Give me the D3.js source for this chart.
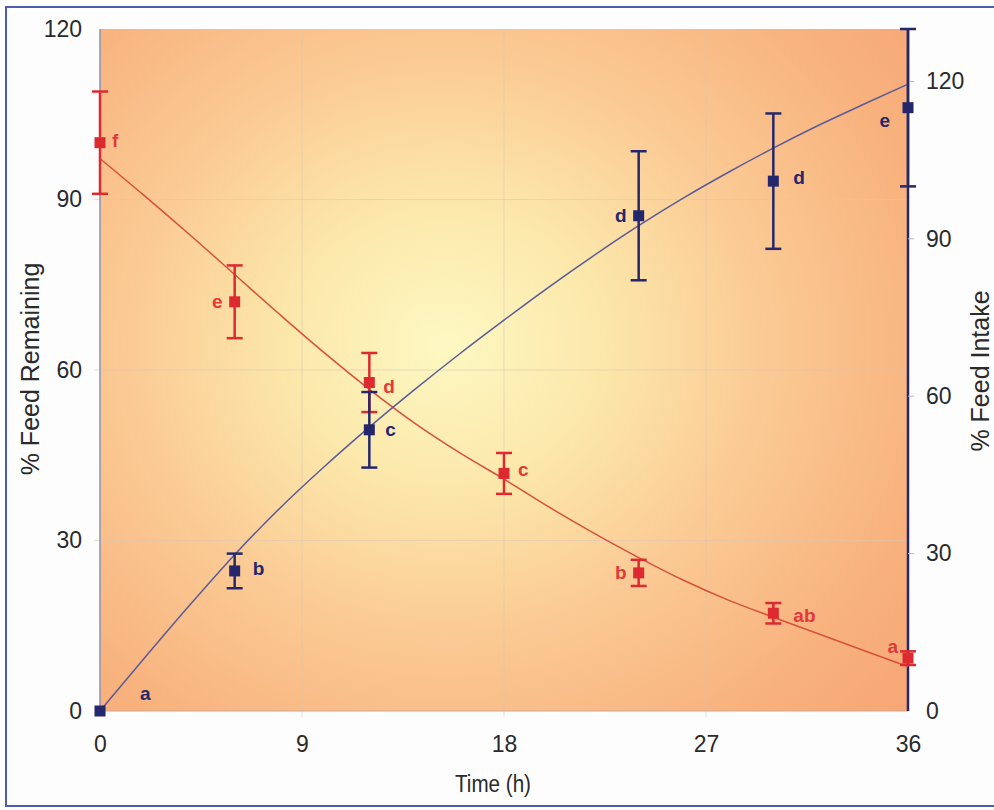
<!DOCTYPE html>
<html>
<head>
<meta charset="utf-8">
<script src="https://cdn.jsdelivr.net/npm/d3@7"></script>
<style>
  html, body { margin: 0; padding: 0; background: #ffffff; }
  svg { display: block; font-family: "Liberation Sans", Arial, sans-serif; }
</style>
</head>
<body>
<svg id="chart" width="994" height="810"></svg>
<script>
// Sampling times (h)
const hours = [0, 6, 12, 18, 24, 30, 36];

// Feed remaining (%), left axis
const remainingMean = [100, 72, 57.8, 41.8, 24.3, 17.2, 9.3];
const remainingErr  = [9, 6.4, 5.2, 3.6, 2.3, 1.8, 1.2];
const remainingLetters = ["f", "e", "d", "c", "b", "ab", "a"];

// Feed intake (%), right axis
const intakeHours = [0, 6, 12, 24, 30, 36];
const intakeMean = [0, 26.7, 53.6, 94.4, 101, 115];
const intakeErr  = [0, 3.3, 7.2, 12.3, 12.9, 15];
const intakeLetters = ["a", "b", "c", "d", "d", "e"];

// Fitted curves
const remainingFitX = [0, 2, 4, 6, 8, 10, 12, 14, 16, 18, 20, 22, 24, 26, 28, 30, 32, 34, 36];
const remainingFitY = [97.2, 90.6, 83.8, 76.8, 69.8, 63.0, 56.6, 50.7, 45.5, 40.8, 35.9, 31.3, 27.0, 23.0, 19.5, 16.5, 13.6, 10.7, 7.8];
const intakeFitX = [0, 2, 4, 6, 8, 10, 12, 14, 16, 18, 20, 22, 24, 26, 28, 30, 32, 34, 36];
const intakeFitY = [0, 10.2, 20.2, 29.8, 38.6, 46.6, 54.1, 61.2, 68.0, 74.5, 80.8, 86.8, 92.5, 97.8, 102.7, 107.3, 111.6, 115.6, 119.5];

// Axis ticks
const xTicks = [0, 9, 18, 27, 36];
const leftTicks = [0, 30, 60, 90, 120];
const rightTicks = [0, 30, 60, 90, 120];

// Letter placement around each marker: [dx, dy, anchor]
const remainingLabelPos = [[12, -2, "start"], [-12, 0, "end"], [14, 4, "start"], [14, -4, "start"], [-12, 0, "end"], [20, 2, "start"], [-10, -12, "end"]];
const intakeLabelPos = [[40, -18, "start"], [18, -2, "start"], [16, 0, "start"], [-12, 0, "end"], [20, -4, "start"], [-18, 13, "end"]];

const svg = d3.select("#chart");
const W = 994, H = 810;
const plot = { left: 100, right: 908, top: 29, bottom: 711 };

const x = d3.scaleLinear().domain([0, 36]).range([plot.left, plot.right]);
const yL = d3.scaleLinear().domain([0, 120]).range([plot.bottom, plot.top]);
const yR = d3.scaleLinear().domain([0, 130]).range([plot.bottom, plot.top]);

const RED = "#dd2a30";
const RED_LINE = "#d9503e";
const RED_TEXT = "#e23a3a";
const BLUE = "#24276b";
const BLUE_LINE = "#5a5c98";
const TEXT = "#2a2a2a";

// Outer frame
svg.append("rect").attr("x", 0).attr("y", 0).attr("width", W).attr("height", H).attr("fill", "#fdfdfe");
svg.append("rect").attr("x", 6).attr("y", 7).attr("width", 1000).attr("height", 799)
  .attr("fill", "none").attr("stroke", "#4d5cab").attr("stroke-width", 2);

// Plot background: warm radial gradient
const defs = svg.append("defs");
const grad = defs.append("radialGradient").attr("id", "bg")
  .attr("gradientUnits", "userSpaceOnUse")
  .attr("cx", 445).attr("cy", 345).attr("r", 560)
  .attr("gradientTransform", "translate(445,345) scale(1.1,1) translate(-445,-345)");
[[0, "#fdf8c2"], [0.25, "#fce8ab"], [0.52, "#fbca94"], [0.8, "#f8b27e"], [1, "#f6a674"]]
  .forEach(([o, c]) => grad.append("stop").attr("offset", o).attr("stop-color", c));

svg.append("rect")
  .attr("x", plot.left).attr("y", plot.top)
  .attr("width", plot.right - plot.left).attr("height", plot.bottom - plot.top)
  .attr("fill", "url(#bg)");

// Faint grid
const grid = svg.append("g").attr("stroke", "#d9c7b8").attr("stroke-opacity", 0.55).attr("stroke-width", 1);
grid.selectAll("line.v").data(xTicks.slice(1, -1)).join("line")
  .attr("x1", d => x(d)).attr("x2", d => x(d)).attr("y1", plot.top).attr("y2", plot.bottom + 6);
grid.selectAll("line.h").data(leftTicks.slice(1, -1)).join("line")
  .attr("x1", plot.left - 6).attr("x2", plot.right).attr("y1", d => yL(d)).attr("y2", d => yL(d));

// Plot edges
svg.append("line").attr("x1", plot.left).attr("x2", plot.left).attr("y1", plot.top).attr("y2", plot.bottom)
  .attr("stroke", "#8d90b4").attr("stroke-width", 1.5);
svg.append("line").attr("x1", plot.left).attr("x2", plot.right).attr("y1", plot.bottom).attr("y2", plot.bottom)
  .attr("stroke", "#c9a896").attr("stroke-width", 1.2);

// Axes (labels drawn through d3 axes, lines hidden)
const tickFont = 23;
const titleFont = 25;
const xAxis = svg.append("g").attr("transform", `translate(0,${plot.bottom})`)
  .call(d3.axisBottom(x).tickValues(xTicks).tickSize(0).tickPadding(25));
const yAxisL = svg.append("g").attr("transform", `translate(${plot.left},0)`)
  .call(d3.axisLeft(yL).tickValues(leftTicks).tickSize(0).tickPadding(18));
const yAxisR = svg.append("g").attr("transform", `translate(${plot.right},0)`)
  .call(d3.axisRight(yR).tickValues(rightTicks).tickSize(0).tickPadding(18));
[xAxis, yAxisL, yAxisR].forEach(g => {
  g.select(".domain").remove();
  g.selectAll("text").attr("font-size", tickFont).attr("fill", TEXT)
    .attr("font-family", "'Liberation Sans', Arial, sans-serif");
});

// Right axis line with small ticks
svg.append("line").attr("x1", plot.right).attr("x2", plot.right).attr("y1", plot.top).attr("y2", plot.bottom)
  .attr("stroke", BLUE).attr("stroke-width", 2.5);
svg.append("g").selectAll("line").data(rightTicks.slice(1)).join("line")
  .attr("x1", plot.right).attr("x2", plot.right + 6)
  .attr("y1", d => yR(d)).attr("y2", d => yR(d))
  .attr("stroke", "#b8b8c8").attr("stroke-width", 1);

// Axis titles
svg.append("text").attr("x", 493).attr("y", 792)
  .attr("text-anchor", "middle").attr("font-size", 23).attr("fill", TEXT)
  .attr("textLength", 76).attr("lengthAdjust", "spacingAndGlyphs").text("Time (h)");
svg.append("text").attr("transform", `translate(39,369) rotate(-90)`)
  .attr("text-anchor", "middle").attr("font-size", titleFont).attr("fill", TEXT).text("% Feed Remaining");
svg.append("text").attr("transform", `translate(989,371) rotate(-90)`)
  .attr("text-anchor", "middle").attr("font-size", titleFont).attr("fill", TEXT).text("% Feed Intake");

// Fitted curves
const remLine = d3.line().x(d => x(d[0])).y(d => yL(d[1])).curve(d3.curveMonotoneX);
const intLine = d3.line().x(d => x(d[0])).y(d => yR(d[1])).curve(d3.curveMonotoneX);
svg.append("path").datum(d3.zip(remainingFitX, remainingFitY)).attr("d", remLine)
  .attr("fill", "none").attr("stroke", RED_LINE).attr("stroke-width", 1.5);
svg.append("path").datum(d3.zip(intakeFitX, intakeFitY)).attr("d", intLine)
  .attr("fill", "none").attr("stroke", BLUE_LINE).attr("stroke-width", 1.5);

// Error bars + markers
function drawSeries(times, means, errs, yScale, color, letters, pos, textColor) {
  const g = svg.append("g");
  const data = times.map((t, i) => ({ t, m: means[i], e: errs[i], l: letters[i], p: pos[i] }));
  const cap = 8;
  data.filter(d => d.e > 0).forEach(d => {
    const cx = x(d.t), y1 = yScale(d.m + d.e), y2 = yScale(d.m - d.e);
    g.append("line").attr("x1", cx).attr("x2", cx).attr("y1", y1).attr("y2", y2)
      .attr("stroke", color).attr("stroke-width", 2.5);
    [y1, y2].forEach(yy => g.append("line").attr("x1", cx - cap).attr("x2", cx + cap)
      .attr("y1", yy).attr("y2", yy).attr("stroke", color).attr("stroke-width", 2.5));
  });
  const s = 11;
  g.selectAll("rect").data(data).join("rect")
    .attr("x", d => x(d.t) - s / 2).attr("y", d => yScale(d.m) - s / 2)
    .attr("width", s).attr("height", s).attr("fill", color);
  g.selectAll("text").data(data).join("text")
    .attr("x", d => x(d.t) + d.p[0]).attr("y", d => yScale(d.m) + d.p[1])
    .attr("text-anchor", d => d.p[2]).attr("dominant-baseline", "central")
    .attr("font-size", 19).attr("font-weight", "bold").attr("fill", textColor)
    .text(d => d.l);
}
drawSeries(hours, remainingMean, remainingErr, yL, RED, remainingLetters, remainingLabelPos, RED_TEXT);
drawSeries(intakeHours, intakeMean, intakeErr, yR, BLUE, intakeLetters, intakeLabelPos, BLUE);
</script>
</body>
</html>
